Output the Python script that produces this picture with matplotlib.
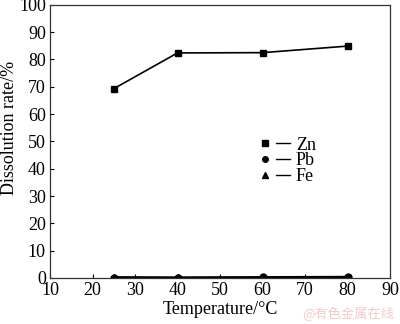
import matplotlib
matplotlib.use('Agg')
import matplotlib.pyplot as plt
from matplotlib.lines import Line2D
from matplotlib.legend_handler import HandlerTuple

# Data
temperature = [25, 40, 60, 80]
zn_rate = [69.3, 82.4, 82.5, 84.9]
pb_rate = [0.1, 0.1, 0.2, 0.3]
fe_rate = [0.4, 0.3, 0.4, 0.5]

plt.rcParams['font.family'] = ['Liberation Serif', 'DejaVu Serif']
plt.rcParams['font.size'] = 13

fig = plt.figure(figsize=(4.0, 3.24), dpi=100)
ax = fig.add_axes([0.125, 0.142, 0.85, 0.843])

ax.plot(temperature, zn_rate, color='black', marker='s', markersize=5, linewidth=1.2)
ax.plot(temperature, pb_rate, color='black', marker='o', markersize=5, linewidth=1.2)
ax.plot(temperature, fe_rate, color='black', marker='^', markersize=5, linewidth=1.2)

ax.set_xlim(10, 90)
ax.set_ylim(0, 100)
ax.set_xticks(range(10, 91, 10))
ax.set_yticks(range(0, 101, 10))
ax.tick_params(direction='in', length=3, width=0.8, labelsize=13, pad=3)
for s in ax.spines.values():
    s.set_linewidth(0.9)
    s.set_color('#333333')

ax.set_xlabel('Temperature/°C', fontsize=13, labelpad=1)
ax.set_ylabel('Dissolution rate/%', fontsize=13)
ax.yaxis.set_label_coords(-0.095, 0.55)

# Legend: marker followed by a short line
markers = ['s', 'o', '^']
names = ['Zn', 'Pb', 'Fe']
handles = []
for m in markers:
    mk = Line2D([], [], color='black', marker=m, linestyle='none', markersize=4)
    ln = Line2D([], [], color='black', linewidth=1.0)
    handles.append((mk, ln))
ax.legend(handles, names, handler_map={tuple: HandlerTuple(ndivide=None, pad=0.25)},
          loc='upper left', bbox_to_anchor=(0.585, 0.55), frameon=False,
          handlelength=1.8, handletextpad=0.3, labelspacing=-0.08, fontsize=13,
          borderpad=0)

fig.text(0.985, 0.008, '@有色金属在线', color='#f2cccc', fontsize=9.5, ha='right', va='bottom',
         family=['Noto Sans CJK SC', 'DejaVu Sans'])

fig.savefig('out.png', dpi=100)
